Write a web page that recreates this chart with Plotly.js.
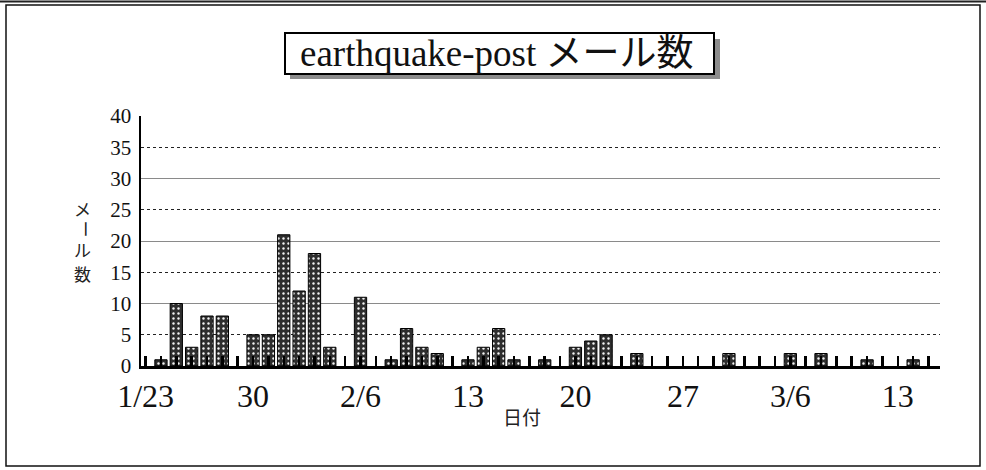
<!DOCTYPE html>
<html>
<head>
<meta charset="utf-8">
<script src="https://cdn.plot.ly/plotly-3.0.1.min.js"></script>
<style>
  html, body { margin: 0; padding: 0; background: #fff; }
  #chart { width: 986px; height: 470px; }
</style>
</head>
<body>
<div id="chart"></div>
<script>
// Days with mail (1995), and number of mails per day
const dates = ['1995-01-24','1995-01-25','1995-01-26','1995-01-27','1995-01-28',
  '1995-01-30','1995-01-31','1995-02-01','1995-02-02','1995-02-03','1995-02-04',
  '1995-02-06','1995-02-08','1995-02-09','1995-02-10','1995-02-11',
  '1995-02-13','1995-02-14','1995-02-15','1995-02-16','1995-02-18',
  '1995-02-20','1995-02-21','1995-02-22','1995-02-24',
  '1995-03-02','1995-03-06','1995-03-08','1995-03-11','1995-03-14'];
const mails = [1,10,3,8,8,
  5,5,21,12,18,3,
  11,1,6,3,2,
  1,3,6,1,1,
  3,4,5,2,
  2,2,2,1,1];

const xTickDates = ['1995-01-23','1995-01-30','1995-02-06','1995-02-13','1995-02-20','1995-02-27','1995-03-06','1995-03-13'];
const xTickLabels = ['1/23','30','2/6','13','20','27','3/6','13'];
const yTicks = [0,5,10,15,20,25,30,35,40];

const DAY = 86400000;
const serif = 'Liberation Serif, Times New Roman, serif';
const jp = 'Liberation Serif, Noto Sans CJK JP, sans-serif';
const xStart = Date.UTC(1995, 0, 23);
const xRange = [xStart - 0.3 * DAY, xStart + 51.75 * DAY];

// axis ticks: one per day, labelled once a week from xTickLabels
const tickVals = [], tickText = [];
for (let d = 0; d <= 51; d++) {
  const t = xStart + d * DAY;
  tickVals.push(t);
  const iso = new Date(t).toISOString().slice(0, 10);
  const i = xTickDates.indexOf(iso);
  tickText.push(i >= 0 ? xTickLabels[i] : '');
}

const L = 141, R = 46, T = 116, B = 104, W = 986, H = 470;
const pw = W - L - R, ph = H - T - B;
const px = v => (v - L) / pw;
const py = v => (H - B - v) / ph;

const traces = [
  {
    type: 'bar',
    x: dates,
    y: mails,
    width: DAY * 0.8,
    marker: {
      color: '#2e2e2e',
      line: { color: '#000', width: 1 },
      pattern: { shape: '.', fgcolor: '#f2f2f2', bgcolor: '#2e2e2e', size: 5, solidity: 0.18, fillmode: 'replace' }
    },
    hoverinfo: 'x+y'
  },
  { type: 'scatter', mode: 'none', x: [dates[0]], y: [0], yaxis: 'y2', hoverinfo: 'skip', showlegend: false }
];

const ytitle = { family: 'Noto Sans CJK JP', size: 17, color: '#222' };

const layout = {
  width: W, height: H,
  margin: { l: L, r: R, t: T, b: B },
  paper_bgcolor: '#fff', plot_bgcolor: '#fff',
  showlegend: false,
  xaxis: {
    type: 'date',
    range: xRange,
    tickmode: 'array', tickvals: tickVals, ticktext: tickText,
    ticks: 'inside', ticklen: 10, tickwidth: 2.5, tickcolor: '#000',
    showline: true, linecolor: '#000', linewidth: 2.5,
    showgrid: false, zeroline: false, layer: 'above traces',
    tickfont: { family: serif, size: 32, color: '#111' }
  },
  yaxis: {
    range: [0, 40], tickmode: 'array', tickvals: yTicks,
    showgrid: false, zeroline: false,
    showline: true, linecolor: '#000', linewidth: 2.5,
    ticks: '', ticklabelstandoff: 3,
    tickfont: { family: serif, size: 21, color: '#111' }
  },
  yaxis2: {
    overlaying: 'y', range: [0, 40], dtick: 10, tick0: 0,
    showticklabels: false, zeroline: false, showline: false, ticks: '',
    showgrid: true, gridcolor: '#8a8a8a', gridwidth: 1,
    minor: { dtick: 5, tick0: 0, showgrid: true, gridcolor: '#222', gridwidth: 1.3, griddash: 'dot' }
  },
  shapes: [
    { type: 'rect', xref: 'paper', yref: 'paper', x0: px(6), x1: px(980), y0: py(466), y1: py(5), line: { color: '#111', width: 1.5 }, fillcolor: 'rgba(0,0,0,0)' },
    { type: 'line', xref: 'paper', yref: 'paper', x0: px(0), x1: px(986), y0: py(1.5), y1: py(1.5), line: { color: '#222', width: 2 } },
    { type: 'rect', xref: 'paper', yref: 'paper', x0: px(290), x1: px(720), y0: py(79), y1: py(39), line: { width: 0 }, fillcolor: '#8c8c8c' },
    { type: 'rect', xref: 'paper', yref: 'paper', x0: px(285), x1: px(714), y0: py(74), y1: py(33), line: { color: '#000', width: 2 }, fillcolor: '#fff' }
  ],
  annotations: [
    { text: 'earthquake-post メール数', xref: 'paper', yref: 'paper', x: px(497), y: py(53), xanchor: 'center', yanchor: 'middle', showarrow: false, font: { family: jp, size: 37, color: '#111' } },
    { text: 'メ', xref: 'paper', yref: 'paper', x: px(72), y: py(208), yanchor: 'middle', showarrow: false, font: ytitle },
    { text: 'ー', xref: 'paper', yref: 'paper', x: px(72), y: py(229), yanchor: 'middle', textangle: 90, showarrow: false, font: ytitle },
    { text: 'ル', xref: 'paper', yref: 'paper', x: px(72), y: py(249), yanchor: 'middle', showarrow: false, font: ytitle },
    { text: '数', xref: 'paper', yref: 'paper', x: px(72), y: py(273), yanchor: 'middle', showarrow: false, font: ytitle },
    { text: '日付', xref: 'paper', yref: 'paper', x: px(522), y: py(416), yanchor: 'middle', showarrow: false, font: { family: 'Noto Sans CJK JP', size: 19, color: '#222' } }
  ]
};

Plotly.newPlot('chart', traces, layout, { displayModeBar: false, staticPlot: true });
</script>
</body>
</html>
